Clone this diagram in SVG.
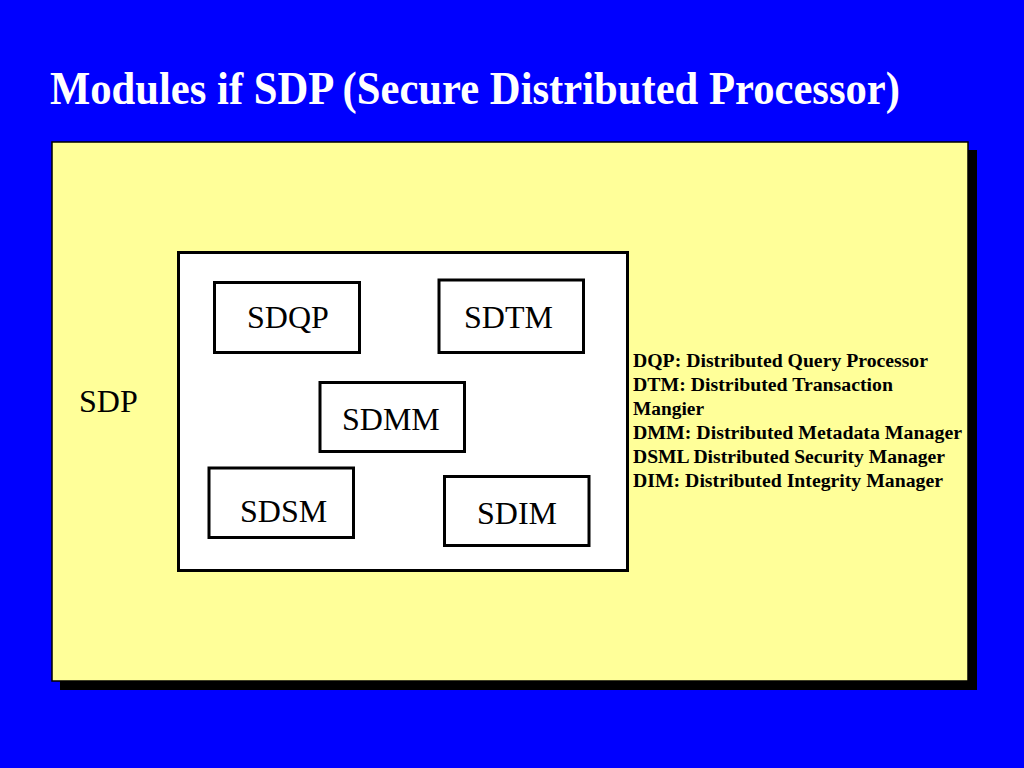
<svg xmlns="http://www.w3.org/2000/svg" width="1024" height="768" viewBox="0 0 1024 768">
<style>
.mod{fill:#fff;stroke:#000;stroke-width:3}
.lbl{font-family:"Liberation Serif","Times New Roman",serif;font-size:32px;fill:#000}
.leg{font-family:"Liberation Serif","Times New Roman",serif;font-size:18px;font-weight:bold;fill:#000}
</style>
<rect x="0" y="0" width="1024" height="768" fill="#0000FF"/>
<text x="50" y="104" font-family="Liberation Serif, Times New Roman, serif" font-size="47" font-weight="bold" fill="#fff" textLength="850" lengthAdjust="spacingAndGlyphs">Modules if SDP (Secure Distributed Processor)</text>
<g id="sdp">
<rect x="60" y="150" width="917" height="540" fill="#000"/>
<rect x="52" y="142" width="916" height="539" fill="#FFFF99" stroke="#000" stroke-width="1.5"/>
<text class="lbl" x="79" y="412">SDP</text>
<rect class="mod" x="178.5" y="252.5" width="449" height="318"/>
</g>
<g id="sdqp"><rect class="mod" x="214.5" y="282.5" width="145" height="70"/><text class="lbl" x="247" y="328">SDQP</text></g>
<g id="sdtm"><rect class="mod" x="439" y="280" width="144.5" height="72.5"/><text class="lbl" x="464" y="328">SDTM</text></g>
<g id="sdmm"><rect class="mod" x="320" y="382.5" width="144.5" height="69"/><text class="lbl" x="342" y="430">SDMM</text></g>
<g id="sdsm"><rect class="mod" x="209" y="468" width="144.5" height="69.5"/><text class="lbl" x="240" y="522">SDSM</text></g>
<g id="sdim"><rect class="mod" x="444.5" y="476.5" width="144.5" height="69"/><text class="lbl" x="477" y="524">SDIM</text></g>
<g id="legend">
<text class="leg" x="633" y="367" textLength="295" lengthAdjust="spacingAndGlyphs">DQP: Distributed Query Processor</text>
<text class="leg" x="633" y="391" textLength="260" lengthAdjust="spacingAndGlyphs">DTM: Distributed Transaction</text>
<text class="leg" x="633" y="415" textLength="71" lengthAdjust="spacingAndGlyphs">Mangier</text>
<text class="leg" x="633" y="439" textLength="329" lengthAdjust="spacingAndGlyphs">DMM: Distributed Metadata Manager</text>
<text class="leg" x="633" y="463" textLength="312" lengthAdjust="spacingAndGlyphs">DSML Distributed Security Manager</text>
<text class="leg" x="633" y="487" textLength="310" lengthAdjust="spacingAndGlyphs">DIM: Distributed Integrity Manager</text>
</g>
<g id="connectors"/>
</svg>
